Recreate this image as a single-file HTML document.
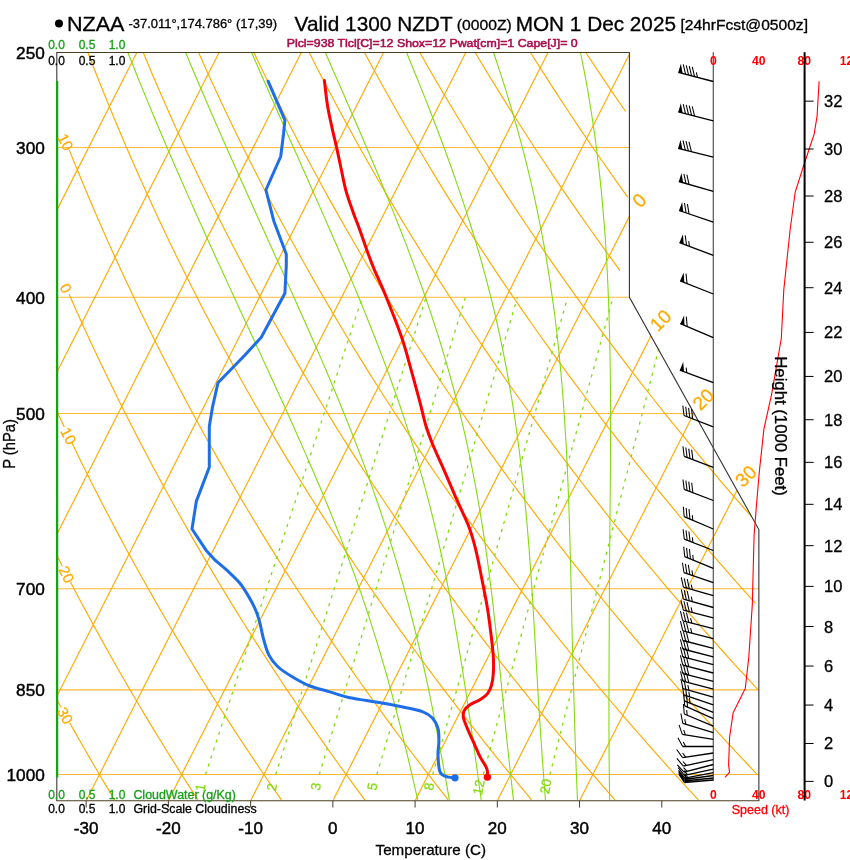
<!DOCTYPE html><html><head><meta charset="utf-8"><style>html,body{margin:0;padding:0;background:#fff;}svg{display:block;will-change:transform;}text{font-family:"Liberation Sans",sans-serif;}</style></head><body>
<svg width="850" height="860" viewBox="0 0 850 860">
<rect width="850" height="860" fill="#fff"/>
<defs><clipPath id="fr"><polygon points="56.8,52.51 629.41,52.51 629.41,297.37 758.86,529.54 758.86,800.72 56.8,800.72"/></clipPath></defs>
<g clip-path="url(#fr)"><line x1="56.8" y1="774.53" x2="758.86" y2="774.53" stroke="#FFBA38" stroke-width="1.1"/><line x1="56.8" y1="689.88" x2="758.86" y2="689.88" stroke="#FFBA38" stroke-width="1.1"/><line x1="56.8" y1="588.76" x2="758.86" y2="588.76" stroke="#FFBA38" stroke-width="1.1"/><line x1="56.8" y1="413.52" x2="694.17" y2="413.52" stroke="#FFBA38" stroke-width="1.1"/><line x1="56.8" y1="297.3" x2="629.41" y2="297.3" stroke="#FFBA38" stroke-width="1.1"/><line x1="56.8" y1="147.46" x2="629.41" y2="147.46" stroke="#FFBA38" stroke-width="1.1"/><line x1="-489.12" y1="799.94" x2="-109.85" y2="52.51" stroke="#FFAA00" stroke-width="1.15"/><line x1="-406.89" y1="799.94" x2="-27.61" y2="52.51" stroke="#FFAA00" stroke-width="1.15"/><line x1="-324.65" y1="799.94" x2="54.63" y2="52.51" stroke="#FFAA00" stroke-width="1.15"/><line x1="-242.41" y1="799.94" x2="136.86" y2="52.51" stroke="#FFAA00" stroke-width="1.15"/><line x1="-160.18" y1="799.94" x2="219.1" y2="52.51" stroke="#FFAA00" stroke-width="1.15"/><line x1="-77.94" y1="799.94" x2="301.34" y2="52.51" stroke="#FFAA00" stroke-width="1.15"/><line x1="4.3" y1="799.94" x2="383.57" y2="52.51" stroke="#FFAA00" stroke-width="1.15"/><line x1="86.53" y1="799.94" x2="465.81" y2="52.51" stroke="#FFAA00" stroke-width="1.15"/><line x1="168.77" y1="799.94" x2="548.05" y2="52.51" stroke="#FFAA00" stroke-width="1.15"/><line x1="251.01" y1="799.94" x2="630.28" y2="52.51" stroke="#FFAA00" stroke-width="1.15"/><line x1="333.24" y1="799.94" x2="712.52" y2="52.51" stroke="#FFAA00" stroke-width="1.15"/><line x1="415.48" y1="799.94" x2="794.76" y2="52.51" stroke="#FFAA00" stroke-width="1.15"/><line x1="497.72" y1="799.94" x2="876.99" y2="52.51" stroke="#FFAA00" stroke-width="1.15"/><line x1="579.95" y1="799.94" x2="959.23" y2="52.51" stroke="#FFAA00" stroke-width="1.15"/><polyline points="114.63,799.94 111.62,794.95 108.59,789.92 105.55,784.84 102.5,779.71 99.43,774.53 96.34,769.29 93.25,764.01 90.13,758.66 87.01,753.27 83.86,747.81 80.71,742.3 77.53,736.73 74.34,731.1 71.14,725.41 69.62,722.7" fill="none" stroke="#FFAA00" stroke-width="1.15"/><polyline points="61.07,707.3 58.16,702 54.87,695.97 51.56,689.88 48.24,683.72 44.9,677.48 41.55,671.17 38.17,664.78 34.78,658.31 31.36,651.76 27.93,645.12 24.48,638.4 21.01,631.59 17.52,624.69 14.02,617.7 10.49,610.62 6.94,603.43 3.37,596.15 -0.22,588.76 -3.84,581.27 -7.47,573.66 -11.13,565.95 -14.81,558.11 -18.51,550.16 -22.23,542.09 -25.98,533.89 -29.75,525.55 -33.54,517.08 -37.36,508.47 -41.2,499.72 -45.07,490.82 -48.97,481.76 -52.89,472.54 -56.83,463.16 -60.8,453.6 -64.8,443.86 -68.83,433.94 -72.88,423.83 -76.96,413.52 -81.07,402.99 -85.21,392.26 -89.37,381.29 -93.57,370.09 -97.8,358.64 -102.05,346.94 -106.34,334.96 -110.65,322.71 -115,310.16 -119.38,297.3 -123.79,284.11 -128.23,270.58 -132.7,256.69 -137.21,242.42 -141.74,227.75 -146.31,212.65 -150.9,197.1 -155.53,181.08 -160.19,164.54 -164.87,147.46 -169.59,129.81 -174.33,111.53 -179.09,92.59 -183.88,72.93 -188.69,52.51" fill="none" stroke="#FFAA00" stroke-width="1.15"/><polyline points="198.02,799.94 194.78,794.95 191.53,789.92 188.25,784.84 184.97,779.71 181.66,774.53 178.34,769.29 175.01,764.01 171.66,758.66 168.29,753.27 164.9,747.81 161.5,742.3 158.08,736.73 154.64,731.1 151.19,725.41 147.71,719.65 144.22,713.83 140.71,707.95 137.18,702 133.63,695.97 130.07,689.88 126.48,683.72 122.87,677.48 119.25,671.17 115.6,664.78 111.93,658.31 108.24,651.76 104.53,645.12 100.8,638.4 97.04,631.59 93.27,624.69 89.47,617.7 85.64,610.62 81.8,603.43 77.93,596.15 74.04,588.76 70.5,582" fill="none" stroke="#FFAA00" stroke-width="1.15"/><polyline points="62.39,566.3 62.21,565.95 58.22,558.11 54.2,550.16 50.15,542.09 46.08,533.89 41.98,525.55 37.85,517.08 33.7,508.47 29.51,499.72 25.3,490.82 21.06,481.76 16.78,472.54 12.48,463.16 8.15,453.6 3.78,443.86 -0.62,433.94 -5.05,423.83 -9.51,413.52 -14.01,402.99 -18.54,392.26 -23.11,381.29 -27.71,370.09 -32.35,358.64 -37.03,346.94 -41.74,334.96 -46.49,322.71 -51.27,310.16 -56.1,297.3 -60.97,284.11 -65.87,270.58 -70.82,256.69 -75.81,242.42 -80.83,227.75 -85.9,212.65 -91.01,197.1 -96.16,181.08 -101.36,164.54 -106.59,147.46 -111.87,129.81 -117.19,111.53 -122.54,92.59 -127.94,72.93 -133.37,52.51" fill="none" stroke="#FFAA00" stroke-width="1.15"/><polyline points="281.41,799.94 277.95,794.95 274.46,789.92 270.96,784.84 267.44,779.71 263.9,774.53 260.35,769.29 256.77,764.01 253.18,758.66 249.57,753.27 245.94,747.81 242.29,742.3 238.63,736.73 234.94,731.1 231.24,725.41 227.51,719.65 223.76,713.83 220,707.95 216.21,702 212.4,695.97 208.57,689.88 204.72,683.72 200.84,677.48 196.94,671.17 193.02,664.78 189.08,658.31 185.12,651.76 181.13,645.12 177.11,638.4 173.07,631.59 169.01,624.69 164.92,617.7 160.8,610.62 156.66,603.43 152.49,596.15 148.3,588.76 144.08,581.27 139.83,573.66 135.55,565.95 131.24,558.11 126.9,550.16 122.53,542.09 118.14,533.89 113.71,525.55 109.25,517.08 104.76,508.47 100.23,499.72 95.67,490.82 91.08,481.76 86.45,472.54 81.79,463.16 77.1,453.6 72.36,443.86 71.75,442.6" fill="none" stroke="#FFAA00" stroke-width="1.15"/><polyline points="64.28,427 62.78,423.83 57.94,413.52 53.05,402.99 48.12,392.26 43.16,381.29 38.15,370.09 33.1,358.64 28,346.94 22.86,334.96 17.68,322.71 12.45,310.16 7.18,297.3 1.85,284.11 -3.52,270.58 -8.94,256.69 -14.41,242.42 -19.93,227.75 -25.5,212.65 -31.12,197.1 -36.8,181.08 -42.53,164.54 -48.31,147.46 -54.15,129.81 -60.04,111.53 -65.99,92.59 -71.99,72.93 -78.05,52.51" fill="none" stroke="#FFAA00" stroke-width="1.15"/><polyline points="364.81,799.94 361.11,794.95 357.4,789.92 353.66,784.84 349.91,779.71 346.14,774.53 342.35,769.29 338.53,764.01 334.7,758.66 330.85,753.27 326.98,747.81 323.09,742.3 319.18,736.73 315.24,731.1 311.28,725.41 307.3,719.65 303.3,713.83 299.28,707.95 295.23,702 291.16,695.97 287.07,689.88 282.95,683.72 278.81,677.48 274.64,671.17 270.45,664.78 266.23,658.31 261.99,651.76 257.72,645.12 253.42,638.4 249.1,631.59 244.75,624.69 240.37,617.7 235.96,610.62 231.52,603.43 227.06,596.15 222.56,588.76 218.03,581.27 213.47,573.66 208.88,565.95 204.26,558.11 199.61,550.16 194.92,542.09 190.19,533.89 185.44,525.55 180.64,517.08 175.81,508.47 170.95,499.72 166.05,490.82 161.1,481.76 156.13,472.54 151.11,463.16 146.05,453.6 140.94,443.86 135.8,433.94 130.61,423.83 125.38,413.52 120.11,402.99 114.79,392.26 109.42,381.29 104.01,370.09 98.54,358.64 93.03,346.94 87.46,334.96 81.85,322.71 76.18,310.16 70.45,297.3 69.13,294.3" fill="none" stroke="#FFAA00" stroke-width="1.15"/><polyline points="448.2,799.94 444.27,794.95 440.33,789.92 436.37,784.84 432.38,779.71 428.37,774.53 424.35,769.29 420.3,764.01 416.23,758.66 412.13,753.27 408.02,747.81 403.88,742.3 399.72,736.73 395.54,731.1 391.33,725.41 387.1,719.65 382.84,713.83 378.56,707.95 374.26,702 369.93,695.97 365.57,689.88 361.19,683.72 356.78,677.48 352.34,671.17 347.88,664.78 343.39,658.31 338.87,651.76 334.32,645.12 329.74,638.4 325.13,631.59 320.49,624.69 315.82,617.7 311.12,610.62 306.39,603.43 301.62,596.15 296.82,588.76 291.99,581.27 287.12,573.66 282.22,565.95 277.28,558.11 272.31,550.16 267.3,542.09 262.25,533.89 257.16,525.55 252.04,517.08 246.87,508.47 241.67,499.72 236.42,490.82 231.13,481.76 225.8,472.54 220.42,463.16 214.99,453.6 209.53,443.86 204.01,433.94 198.45,423.83 192.83,413.52 187.17,402.99 181.45,392.26 175.69,381.29 169.86,370.09 163.99,358.64 158.06,346.94 152.06,334.96 146.02,322.71 139.91,310.16 133.73,297.3 127.5,284.11 121.2,270.58 114.83,256.69 108.39,242.42 101.89,227.75 95.31,212.65 88.66,197.1 81.93,181.08 75.13,164.54 69.3,150.1" fill="none" stroke="#FFAA00" stroke-width="1.15"/><polyline points="531.59,799.94 527.44,794.95 523.26,789.92 519.07,784.84 514.85,779.71 510.61,774.53 506.35,769.29 502.06,764.01 497.75,758.66 493.42,753.27 489.06,747.81 484.68,742.3 480.27,736.73 475.84,731.1 471.38,725.41 466.9,719.65 462.39,713.83 457.85,707.95 453.28,702 448.69,695.97 444.07,689.88 439.43,683.72 434.75,677.48 430.04,671.17 425.31,664.78 420.54,658.31 415.74,651.76 410.91,645.12 406.05,638.4 401.16,631.59 396.23,624.69 391.27,617.7 386.28,610.62 381.25,603.43 376.18,596.15 371.08,588.76 365.95,581.27 360.77,573.66 355.56,565.95 350.31,558.11 345.01,550.16 339.68,542.09 334.31,533.89 328.89,525.55 323.43,517.08 317.93,508.47 312.38,499.72 306.79,490.82 301.15,481.76 295.47,472.54 289.73,463.16 283.94,453.6 278.11,443.86 272.22,433.94 266.28,423.83 260.28,413.52 254.23,402.99 248.12,392.26 241.95,381.29 235.72,370.09 229.43,358.64 223.08,346.94 216.67,334.96 210.18,322.71 203.63,310.16 197.01,297.3 190.32,284.11 183.55,270.58 176.71,256.69 169.79,242.42 162.8,227.75 155.72,212.65 148.55,197.1 141.3,181.08 133.96,164.54 126.53,147.46 119,129.81 111.38,111.53 103.66,92.59 95.84,72.93 87.91,52.51" fill="none" stroke="#FFAA00" stroke-width="1.15"/><polyline points="614.98,799.94 610.6,794.95 606.2,789.92 601.77,784.84 597.32,779.71 592.85,774.53 588.35,769.29 583.82,764.01 579.27,758.66 574.7,753.27 570.1,747.81 565.47,742.3 560.82,736.73 556.14,731.1 551.43,725.41 546.69,719.65 541.93,713.83 537.13,707.95 532.31,702 527.46,695.97 522.57,689.88 517.66,683.72 512.72,677.48 507.74,671.17 502.73,664.78 497.69,658.31 492.62,651.76 487.51,645.12 482.36,638.4 477.19,631.59 471.97,624.69 466.72,617.7 461.44,610.62 456.11,603.43 450.75,596.15 445.34,588.76 439.9,581.27 434.42,573.66 428.89,565.95 423.33,558.11 417.72,550.16 412.06,542.09 406.37,533.89 400.62,525.55 394.83,517.08 388.99,508.47 383.1,499.72 377.16,490.82 371.18,481.76 365.14,472.54 359.04,463.16 352.89,453.6 346.69,443.86 340.43,433.94 334.11,423.83 327.73,413.52 321.29,402.99 314.78,392.26 308.22,381.29 301.58,370.09 294.88,358.64 288.11,346.94 281.27,334.96 274.35,322.71 267.36,310.16 260.29,297.3 253.14,284.11 245.91,270.58 238.6,256.69 231.19,242.42 223.7,227.75 216.12,212.65 208.44,197.1 200.67,181.08 192.79,164.54 184.81,147.46 176.72,129.81 168.52,111.53 160.21,92.59 151.78,72.93 143.23,52.51" fill="none" stroke="#FFAA00" stroke-width="1.15"/><polyline points="698.38,799.94 693.77,794.95 689.13,789.92 684.48,784.84 679.79,779.71 675.08,774.53 670.35,769.29 665.59,764.01 660.8,758.66 655.98,753.27 651.14,747.81 646.27,742.3 641.36,736.73 636.43,731.1 631.48,725.41 626.49,719.65 621.47,713.83 616.42,707.95 611.34,702 606.22,695.97 601.08,689.88 595.9,683.72 590.69,677.48 585.44,671.17 580.16,664.78 574.84,658.31 569.49,651.76 564.1,645.12 558.68,638.4 553.22,631.59 547.71,624.69 542.17,617.7 536.59,610.62 530.97,603.43 525.31,596.15 519.61,588.76 513.86,581.27 508.07,573.66 502.23,565.95 496.35,558.11 490.42,550.16 484.45,542.09 478.42,533.89 472.35,525.55 466.22,517.08 460.05,508.47 453.82,499.72 447.54,490.82 441.2,481.76 434.81,472.54 428.35,463.16 421.84,453.6 415.27,443.86 408.64,433.94 401.94,423.83 395.18,413.52 388.35,402.99 381.45,392.26 374.48,381.29 367.44,370.09 360.33,358.64 353.14,346.94 345.87,334.96 338.52,322.71 331.09,310.16 323.57,297.3 315.96,284.11 308.27,270.58 300.48,256.69 292.59,242.42 284.61,227.75 276.52,212.65 268.33,197.1 260.03,181.08 251.62,164.54 243.09,147.46 234.44,129.81 225.66,111.53 216.76,92.59 207.72,72.93 198.55,52.51" fill="none" stroke="#FFAA00" stroke-width="1.15"/><polyline points="757.32,774.53 752.35,769.29 747.35,764.01 742.32,758.66 737.26,753.27 732.18,747.81 727.06,742.3 721.91,736.73 716.73,731.1 711.52,725.41 706.28,719.65 701.01,713.83 695.7,707.95 690.36,702 684.99,695.97 679.58,689.88 674.13,683.72 668.65,677.48 663.14,671.17 657.59,664.78 652,658.31 646.37,651.76 640.7,645.12 634.99,638.4 629.24,631.59 623.46,624.69 617.62,617.7 611.75,610.62 605.83,603.43 599.87,596.15 593.87,588.76 587.81,581.27 581.72,573.66 575.57,565.95 569.37,558.11 563.13,550.16 556.83,542.09 550.48,533.89 544.08,525.55 537.62,517.08 531.11,508.47 524.54,499.72 517.91,490.82 511.22,481.76 504.48,472.54 497.67,463.16 490.79,453.6 483.85,443.86 476.85,433.94 469.77,423.83 462.63,413.52 455.41,402.99 448.12,392.26 440.75,381.29 433.3,370.09 425.77,358.64 418.16,346.94 410.47,334.96 402.68,322.71 394.81,310.16 386.85,297.3 378.78,284.11 370.62,270.58 362.36,256.69 353.99,242.42 345.52,227.75 336.93,212.65 328.22,197.1 319.4,181.08 310.45,164.54 301.37,147.46 292.16,129.81 282.81,111.53 273.31,92.59 263.67,72.93 253.87,52.51" fill="none" stroke="#FFAA00" stroke-width="1.15"/><polyline points="758.08,689.88 752.37,683.72 746.62,677.48 740.84,671.17 735.01,664.78 729.15,658.31 723.24,651.76 717.29,645.12 711.31,638.4 705.27,631.59 699.2,624.69 693.08,617.7 686.91,610.62 680.7,603.43 674.44,596.15 668.13,588.76 661.77,581.27 655.36,573.66 648.91,565.95 642.39,558.11 635.83,550.16 629.21,542.09 622.54,533.89 615.8,525.55 609.02,517.08 602.17,508.47 595.26,499.72 588.28,490.82 581.25,481.76 574.15,472.54 566.98,463.16 559.74,453.6 552.43,443.86 545.06,433.94 537.6,423.83 530.07,413.52 522.47,402.99 514.78,392.26 507.01,381.29 499.16,370.09 491.22,358.64 483.19,346.94 475.07,334.96 466.85,322.71 458.54,310.16 450.12,297.3 441.61,284.11 432.98,270.58 424.24,256.69 415.39,242.42 406.42,227.75 397.33,212.65 388.11,197.1 378.76,181.08 369.28,164.54 359.65,147.46 349.87,129.81 339.95,111.53 329.86,92.59 319.61,72.93 309.19,52.51" fill="none" stroke="#FFAA00" stroke-width="1.15"/><polyline points="755.56,603.43 749,596.15 742.39,588.76 735.73,581.27 729.01,573.66 722.24,565.95 715.42,558.11 708.53,550.16 701.59,542.09 694.59,533.89 687.53,525.55 680.41,517.08 673.22,508.47 665.97,499.72 658.66,490.82 651.27,481.76 643.82,472.54 636.29,463.16 628.69,453.6 621.02,443.86 613.26,433.94 605.43,423.83 597.52,413.52 589.53,402.99 581.45,392.26 573.28,381.29 565.02,370.09 556.66,358.64 548.22,346.94 539.67,334.96 531.02,322.71 522.27,310.16 513.4,297.3 504.43,284.11 495.34,270.58 486.13,256.69 476.79,242.42 467.33,227.75 457.74,212.65 448,197.1 438.13,181.08 428.11,164.54 417.93,147.46 407.59,129.81 397.09,111.53 386.41,92.59 375.55,72.93 364.51,52.51" fill="none" stroke="#FFAA00" stroke-width="1.15"/><polyline points="751.81,517.08 744.28,508.47 736.69,499.72 729.03,490.82 721.29,481.76 713.49,472.54 705.6,463.16 697.64,453.6 689.6,443.86 681.47,433.94 673.26,423.83 664.97,413.52 656.59,402.99 648.11,392.26 639.54,381.29 630.88,370.09 622.11,358.64 613.24,346.94 604.27,334.96 595.19,322.71 585.99,310.16 576.68,297.3 567.25,284.11 557.69,270.58 548.01,256.69 538.19,242.42 528.24,227.75 518.14,212.65 507.9,197.1 497.5,181.08 486.94,164.54 476.21,147.46 465.31,129.81 454.23,111.53 442.96,92.59 431.5,72.93 419.82,52.51" fill="none" stroke="#FFAA00" stroke-width="1.15"/><polyline points="620.05,270.58 609.89,256.69 599.59,242.42 589.15,227.75 578.55,212.65 567.79,197.1 556.86,181.08 545.77,164.54 534.49,147.46 523.03,129.81 511.37,111.53 499.51,92.59 487.44,72.93 475.14,52.51" fill="none" stroke="#FFAA00" stroke-width="1.15"/><polyline points="627.68,197.1 616.23,181.08 604.6,164.54 592.77,147.46 580.75,129.81 568.51,111.53 556.06,92.59 543.38,72.93 530.46,52.51" fill="none" stroke="#FFAA00" stroke-width="1.15"/><polyline points="625.66,111.53 612.61,92.59 599.33,72.93 585.78,52.51" fill="none" stroke="#FFAA00" stroke-width="1.15"/><polyline points="417.72,799.94 416.59,794.95 415.45,789.92 414.29,784.84 413.12,779.71 411.93,774.53 410.71,769.29 409.47,764.01 408.21,758.66 406.91,753.27 405.59,747.81 404.28,742.3 402.91,736.73 401.51,731.1 400.09,725.41 398.62,719.65 397.13,713.83 395.6,707.95 394.03,702 392.42,695.97 390.76,689.88 389.07,683.72 387.33,677.48 385.54,671.17 383.7,664.78 381.81,658.31 379.86,651.76 377.86,645.12 375.79,638.4 373.67,631.59 371.48,624.69 369.22,617.7 366.89,610.62 364.48,603.43 362,596.15 359.44,588.76 356.8,581.27 354.07,573.66 351.25,565.95 348.38,558.11 345.38,550.16 342.26,542.09 339.05,533.89 335.74,525.55 332.34,517.08 328.83,508.47 325.22,499.72 321.5,490.82 317.67,481.76 313.73,472.54 309.68,463.16 305.52,453.6 301.24,443.86 296.84,433.94 292.32,423.83 287.68,413.52 282.91,402.99 278.02,392.26 273,381.29 267.85,370.09 262.58,358.64 257.17,346.94 251.63,334.96 245.96,322.71 240.15,310.16 234.21,297.3 228.13,284.11 221.91,270.58 215.55,256.69 209.05,242.42 202.41,227.75 195.63,212.65 188.69,197.1 181.61,181.08 174.39,164.54 167.01,147.46 159.49,129.81 151.81,111.53 143.98,92.59 136,72.93 127.86,52.51" fill="none" stroke="#84DA10" stroke-width="1.1"/><polyline points="449.38,799.94 448.48,794.95 447.58,789.92 446.67,784.84 445.75,779.71 444.82,774.53 443.88,769.29 442.92,764.01 441.94,758.66 440.95,753.27 439.93,747.81 438.94,742.3 437.89,736.73 436.83,731.1 435.74,725.41 434.63,719.65 433.5,713.83 432.33,707.95 431.14,702 429.91,695.97 428.66,689.88 427.36,683.72 426.03,677.48 424.66,671.17 423.24,664.78 421.77,658.31 420.23,651.76 418.65,645.12 417.03,638.4 415.36,631.59 413.64,624.69 411.86,617.7 410.03,610.62 408.14,603.43 406.19,596.15 404.17,588.76 402.08,581.27 399.92,573.66 397.68,565.95 395.36,558.11 392.95,550.16 390.46,542.09 387.89,533.89 385.21,525.55 382.44,517.08 379.55,508.47 376.56,499.72 373.46,490.82 370.24,481.76 366.9,472.54 363.43,463.16 359.83,453.6 356.1,443.86 352.24,433.94 348.23,423.83 344.08,413.52 339.78,402.99 335.33,392.26 330.73,381.29 325.97,370.09 321.05,358.64 315.97,346.94 310.72,334.96 305.3,322.71 299.72,310.16 293.96,297.3 288.03,284.11 281.92,270.58 275.64,256.69 269.17,242.42 262.53,227.75 255.7,212.65 248.68,197.1 241.48,181.08 234.08,164.54 226.5,147.46 218.72,129.81 210.74,111.53 202.57,92.59 194.2,72.93 185.63,52.51" fill="none" stroke="#84DA10" stroke-width="1.1"/><polyline points="481.22,799.94 480.53,794.95 479.83,789.92 479.13,784.84 478.42,779.71 477.72,774.53 477,769.29 476.28,764.01 475.54,758.66 474.8,753.27 474.03,747.81 473.26,742.3 472.51,736.73 471.72,731.1 470.91,725.41 470.05,719.65 469.18,713.83 468.3,707.95 467.41,702 466.5,695.97 465.57,689.88 464.63,683.72 463.66,677.48 462.68,671.17 461.67,664.78 460.63,658.31 459.57,651.76 458.48,645.12 457.35,638.4 456.19,631.59 455,624.69 453.76,617.7 452.49,610.62 451.16,603.43 449.8,596.15 448.38,588.76 446.9,581.27 445.37,573.66 443.77,565.95 442.11,558.11 440.38,550.16 438.58,542.09 436.69,533.89 434.72,525.55 432.66,517.08 430.51,508.47 428.26,499.72 425.9,490.82 423.43,481.76 420.85,472.54 418.14,463.16 415.31,453.6 412.34,443.86 409.24,433.94 405.98,423.83 402.58,413.52 399.01,402.99 395.28,392.26 391.37,381.29 387.29,370.09 383.02,358.64 378.56,346.94 373.91,334.96 369.05,322.71 363.99,310.16 358.71,297.3 353.22,284.11 347.51,270.58 341.57,256.69 335.41,242.42 329.01,227.75 322.38,212.65 315.51,197.1 308.39,181.08 301.09,164.54 293.49,147.46 285.63,129.81 277.52,111.53 269.15,92.59 260.52,72.93 251.63,52.51" fill="none" stroke="#84DA10" stroke-width="1.1"/><polyline points="513.42,799.94 512.87,794.95 512.32,789.92 511.76,784.84 511.19,779.71 510.61,774.53 510.03,769.29 509.45,764.01 508.87,758.66 508.29,753.27 507.71,747.81 507.13,742.3 506.55,736.73 506,731.1 505.43,725.41 504.85,719.65 504.28,713.83 503.69,707.95 503.11,702 502.51,695.97 501.91,689.88 501.31,683.72 500.69,677.48 500.06,671.17 499.42,664.78 498.76,658.31 498.09,651.76 497.4,645.12 496.69,638.4 495.96,631.59 495.21,624.69 494.43,617.7 493.66,610.62 492.83,603.43 491.97,596.15 491.08,588.76 490.14,581.27 489.17,573.66 488.15,565.95 487.09,558.11 485.98,550.16 484.81,542.09 483.58,533.89 482.29,525.55 480.93,517.08 479.5,508.47 478,499.72 476.41,490.82 474.73,481.76 472.96,472.54 471.06,463.16 469.1,453.6 467.02,443.86 464.79,433.94 462.44,423.83 459.95,413.52 457.31,402.99 454.52,392.26 451.57,381.29 448.44,370.09 445.13,358.64 441.62,346.94 437.91,334.96 433.98,322.71 429.83,310.16 425.44,297.3 420.81,284.11 415.92,270.58 410.76,256.69 405.33,242.42 399.61,227.75 393.6,212.65 387.34,197.1 380.73,181.08 373.81,164.54 366.57,147.46 359,129.81 351.1,111.53 342.86,92.59 334.27,72.93 325.33,52.51" fill="none" stroke="#84DA10" stroke-width="1.1"/><polyline points="545.47,799.94 545.07,794.95 544.67,789.92 544.28,784.84 543.89,779.71 543.51,774.53 543.12,769.29 542.74,764.01 542.36,758.66 541.97,753.27 541.58,747.81 541.22,742.3 540.84,736.73 540.45,731.1 540.07,725.41 539.68,719.65 539.3,713.83 538.94,707.95 538.58,702 538.22,695.97 537.86,689.88 537.5,683.72 537.14,677.48 536.78,671.17 536.41,664.78 536.04,658.31 535.67,651.76 535.28,645.12 534.89,638.4 534.49,631.59 534.12,624.69 533.7,617.7 533.27,610.62 532.83,603.43 532.37,596.15 531.9,588.76 531.4,581.27 530.88,573.66 530.34,565.95 529.77,558.11 529.17,550.16 528.53,542.09 527.86,533.89 527.16,525.55 526.41,517.08 525.61,508.47 524.77,499.72 523.87,490.82 522.91,481.76 521.89,472.54 520.8,463.16 519.63,453.6 518.38,443.86 517.04,433.94 515.61,423.83 514.07,413.52 512.42,402.99 510.65,392.26 508.75,381.29 506.7,370.09 504.52,358.64 502.17,346.94 499.64,334.96 496.93,322.71 494.01,310.16 490.88,297.3 487.52,284.11 483.91,270.58 480.04,256.69 475.89,242.42 471.43,227.75 466.65,212.65 461.54,197.1 456.06,181.08 450.25,164.54 444.03,147.46 437.41,129.81 430.37,111.53 422.89,92.59 414.96,72.93 406.57,52.51" fill="none" stroke="#84DA10" stroke-width="1.1"/><polyline points="577.49,799.94 577.26,794.95 577.04,789.92 576.82,784.84 576.61,779.71 576.4,774.53 576.2,769.29 576,764.01 575.8,758.66 575.61,753.27 575.42,747.81 575.22,742.3 575.07,736.73 574.89,731.1 574.71,725.41 574.54,719.65 574.37,713.83 574.2,707.95 574.02,702 573.85,695.97 573.68,689.88 573.51,683.72 573.33,677.48 573.15,671.17 572.96,664.78 572.78,658.31 572.58,651.76 572.41,645.12 572.25,638.4 572.08,631.59 571.91,624.69 571.79,617.7 571.63,610.62 571.47,603.43 571.3,596.15 571.14,588.76 570.96,581.27 570.78,573.66 570.6,565.95 570.4,558.11 570.19,550.16 569.97,542.09 569.74,533.89 569.49,525.55 569.22,517.08 568.93,508.47 568.61,499.72 568.28,490.82 567.91,481.76 567.51,472.54 567.07,463.16 566.6,453.6 566.08,443.86 565.46,433.94 564.83,423.83 564.14,413.52 563.39,402.99 562.57,392.26 561.66,381.29 560.67,370.09 559.58,358.64 558.44,346.94 557.12,334.96 555.67,322.71 554.07,310.16 552.29,297.3 550.41,284.11 548.3,270.58 546,256.69 543.48,242.42 540.71,227.75 537.68,212.65 534.37,197.1 530.73,181.08 526.74,164.54 522.36,147.46 517.56,129.81 512.32,111.53 506.6,92.59 500.36,72.93 493.58,52.51" fill="none" stroke="#84DA10" stroke-width="1.1"/><polyline points="609.69,799.94 609.6,794.95 609.51,789.92 609.43,784.84 609.36,779.71 609.29,774.53 609.24,769.29 609.18,764.01 609.13,758.66 609.09,753.27 609.05,747.81 609.01,742.3 609.01,736.73 608.99,731.1 608.97,725.41 608.96,719.65 608.96,713.83 608.96,707.95 608.96,702 608.97,695.97 608.99,689.88 609,683.72 609.02,677.48 609.04,671.17 609.07,664.78 609.1,658.31 609.13,651.76 609.16,645.12 609.19,638.4 609.22,631.59 609.25,624.69 609.28,617.7 609.3,610.62 609.37,603.43 609.4,596.15 609.42,588.76 609.44,581.27 609.49,573.66 609.56,565.95 609.62,558.11 609.7,550.16 609.77,542.09 609.85,533.89 609.93,525.55 610.01,517.08 610.09,508.47 610.18,499.72 610.26,490.82 610.33,481.76 610.41,472.54 610.47,463.16 610.49,453.6 610.53,443.86 610.56,433.94 610.57,423.83 610.55,413.52 610.52,402.99 610.46,392.26 610.36,381.29 610.24,370.09 610.07,358.64 609.85,346.94 609.59,334.96 609.26,322.71 608.86,310.16 608.39,297.3 607.83,284.11 607.18,270.58 606.41,256.69 605.56,242.42 604.53,227.75 603.2,212.65 601.88,197.1 600.29,181.08 598.46,164.54 596.36,147.46 593.96,129.81 591.23,111.53 588.11,92.59 584.54,72.93 580.52,52.51" fill="none" stroke="#84DA10" stroke-width="1.1"/></g>
<path d="M549.9 774.53L659.22 346.94M483.26 774.53L612.99 297.3M432.76 774.53L567.69 297.3M376.88 774.53L517.42 297.3M319.27 774.53L465.43 297.3M275.76 774.53L426.04 297.3M205.58 774.53L362.28 297.3" fill="none" stroke="#84DA10" stroke-width="1.3" stroke-dasharray="3.2,5.2"/>
<polyline points="629.41,52.51 629.41,297.37 758.86,529.54 758.86,800.72" fill="none" stroke="#333" stroke-width="1.1"/>
<line x1="56.8" y1="52.51" x2="56.8" y2="800.72" stroke="#3a3a3a" stroke-width="1.1"/>
<line x1="56.3" y1="52.51" x2="629.91" y2="52.51" stroke="#4a3d22" stroke-width="1.1"/>
<line x1="56.3" y1="800.72" x2="759.36" y2="800.72" stroke="#4a3d22" stroke-width="1.1"/>
<line x1="57.1" y1="81" x2="57.1" y2="777.6" stroke="#18A018" stroke-width="2.3"/>
<text x="44.8" y="58.71" font-size="17.2" fill="#000" text-anchor="end" stroke="#000" stroke-width="0.45">250</text>
<text x="44.8" y="153.66" font-size="17.2" fill="#000" text-anchor="end" stroke="#000" stroke-width="0.45">300</text>
<text x="44.8" y="303.5" font-size="17.2" fill="#000" text-anchor="end" stroke="#000" stroke-width="0.45">400</text>
<text x="44.8" y="419.72" font-size="17.2" fill="#000" text-anchor="end" stroke="#000" stroke-width="0.45">500</text>
<text x="44.8" y="594.96" font-size="17.2" fill="#000" text-anchor="end" stroke="#000" stroke-width="0.45">700</text>
<text x="44.8" y="696.08" font-size="17.2" fill="#000" text-anchor="end" stroke="#000" stroke-width="0.45">850</text>
<text x="44.8" y="780.73" font-size="17.2" fill="#000" text-anchor="end" stroke="#000" stroke-width="0.45">1000</text>
<text x="14.6" y="444" font-size="16" fill="#000" text-anchor="middle" textLength="49.6" lengthAdjust="spacingAndGlyphs" transform="rotate(-90 14.6 444)" stroke="#000" stroke-width="0.3">P (hPa)</text>
<text x="86.14" y="833.6" font-size="17" fill="#000" text-anchor="middle" stroke="#000" stroke-width="0.45">-30</text>
<line x1="86.14" y1="800.72" x2="86.14" y2="807.5" stroke="#4a3d22" stroke-width="1"/>
<text x="168.37" y="833.6" font-size="17" fill="#000" text-anchor="middle" stroke="#000" stroke-width="0.45">-20</text>
<line x1="168.37" y1="800.72" x2="168.37" y2="807.5" stroke="#4a3d22" stroke-width="1"/>
<text x="250.61" y="833.6" font-size="17" fill="#000" text-anchor="middle" stroke="#000" stroke-width="0.45">-10</text>
<line x1="250.61" y1="800.72" x2="250.61" y2="807.5" stroke="#4a3d22" stroke-width="1"/>
<text x="332.85" y="833.6" font-size="17" fill="#000" text-anchor="middle" stroke="#000" stroke-width="0.45">0</text>
<line x1="332.85" y1="800.72" x2="332.85" y2="807.5" stroke="#4a3d22" stroke-width="1"/>
<text x="415.08" y="833.6" font-size="17" fill="#000" text-anchor="middle" stroke="#000" stroke-width="0.45">10</text>
<line x1="415.08" y1="800.72" x2="415.08" y2="807.5" stroke="#4a3d22" stroke-width="1"/>
<text x="497.32" y="833.6" font-size="17" fill="#000" text-anchor="middle" stroke="#000" stroke-width="0.45">20</text>
<line x1="497.32" y1="800.72" x2="497.32" y2="807.5" stroke="#4a3d22" stroke-width="1"/>
<text x="579.56" y="833.6" font-size="17" fill="#000" text-anchor="middle" stroke="#000" stroke-width="0.45">30</text>
<line x1="579.56" y1="800.72" x2="579.56" y2="807.5" stroke="#4a3d22" stroke-width="1"/>
<text x="661.79" y="833.6" font-size="17" fill="#000" text-anchor="middle" stroke="#000" stroke-width="0.45">40</text>
<line x1="661.79" y1="800.72" x2="661.79" y2="807.5" stroke="#4a3d22" stroke-width="1"/>
<text x="430.8" y="854.5" font-size="15.5" fill="#000" text-anchor="middle" textLength="110.4" lengthAdjust="spacingAndGlyphs" stroke="#000" stroke-width="0.3">Temperature (C)</text>
<text x="56.5" y="49.3" font-size="12" fill="#18A018" text-anchor="middle" stroke="#18A018" stroke-width="0.3">0.0</text>
<text x="56.5" y="64.8" font-size="12" fill="#000" text-anchor="middle" stroke="#000" stroke-width="0.3">0.0</text>
<text x="56.5" y="799.1" font-size="12" fill="#18A018" text-anchor="middle" stroke="#18A018" stroke-width="0.3">0.0</text>
<text x="56.5" y="812.8" font-size="12" fill="#000" text-anchor="middle" stroke="#000" stroke-width="0.3">0.0</text>
<text x="87" y="49.3" font-size="12" fill="#18A018" text-anchor="middle" stroke="#18A018" stroke-width="0.3">0.5</text>
<text x="87" y="64.8" font-size="12" fill="#000" text-anchor="middle" stroke="#000" stroke-width="0.3">0.5</text>
<text x="87" y="799.1" font-size="12" fill="#18A018" text-anchor="middle" stroke="#18A018" stroke-width="0.3">0.5</text>
<text x="87" y="812.8" font-size="12" fill="#000" text-anchor="middle" stroke="#000" stroke-width="0.3">0.5</text>
<text x="117" y="49.3" font-size="12" fill="#18A018" text-anchor="middle" stroke="#18A018" stroke-width="0.3">1.0</text>
<text x="117" y="64.8" font-size="12" fill="#000" text-anchor="middle" stroke="#000" stroke-width="0.3">1.0</text>
<text x="117" y="799.1" font-size="12" fill="#18A018" text-anchor="middle" stroke="#18A018" stroke-width="0.3">1.0</text>
<text x="117" y="812.8" font-size="12" fill="#000" text-anchor="middle" stroke="#000" stroke-width="0.3">1.0</text>
<text x="133.4" y="798.9" font-size="12" fill="#18A018" textLength="102.5" lengthAdjust="spacingAndGlyphs" stroke="#18A018" stroke-width="0.3">CloudWater (g/Kg)</text>
<text x="133.4" y="812.8" font-size="12" fill="#000" textLength="123.3" lengthAdjust="spacingAndGlyphs" stroke="#000" stroke-width="0.3">Grid-Scale Cloudiness</text>
<circle cx="59" cy="23.5" r="4" fill="#000"/>
<text x="67" y="30.6" font-size="20.3" fill="#000" textLength="57.4" lengthAdjust="spacingAndGlyphs" stroke="#000" stroke-width="0.3">NZAA</text>
<text x="128.4" y="28.1" font-size="12.7" fill="#000" textLength="148.6" lengthAdjust="spacingAndGlyphs" stroke="#000" stroke-width="0.3">-37.011°,174.786° (17,39)</text>
<text x="294.6" y="30.6" font-size="20.3" fill="#000" textLength="158" lengthAdjust="spacingAndGlyphs" stroke="#000" stroke-width="0.3">Valid 1300 NZDT</text>
<text x="456.8" y="30.3" font-size="14.5" fill="#000" textLength="55" lengthAdjust="spacingAndGlyphs" stroke="#000" stroke-width="0.3">(0000Z)</text>
<text x="515.7" y="30.6" font-size="20.3" fill="#000" textLength="160.3" lengthAdjust="spacingAndGlyphs" stroke="#000" stroke-width="0.3">MON 1 Dec 2025</text>
<text x="680.4" y="30.3" font-size="14.5" fill="#000" textLength="127.6" lengthAdjust="spacingAndGlyphs" stroke="#000" stroke-width="0.3">[24hrFcst@0500z]</text>
<text x="286.7" y="47.1" font-size="11.8" fill="#A80E48" textLength="291" lengthAdjust="spacingAndGlyphs" stroke="#A80E48" stroke-width="0.55">Plcl=938 Tlcl[C]=12 Shox=12 Pwat[cm]=1 Cape[J]= 0</text>
<path d="M268.1 81.2L284.9 120.2L283.5 134.2L280.7 156.5L265.9 190L273.7 220.7L286.3 254.2L286.3 265.4L284.9 293.3L261.3 337.2L245 355L218 382.7L212.5 407.1L209.3 426.6L209.3 467.2L196.3 501.4L192 529L206 550.2L214.9 560L214.9 560C217.07 561.87 223.87 567.48 227.9 571.2C231.93 574.92 235.85 578.43 239.1 582.3C242.35 586.17 244.77 590.05 247.4 594.4C250.03 598.75 252.88 603.9 254.9 608.4C256.92 612.9 258.1 616.45 259.5 621.4C260.9 626.35 261.75 632.52 263.3 638.1C264.85 643.68 266.33 650.08 268.8 654.9C271.27 659.72 274.07 663.28 278.1 667C282.13 670.72 287.68 674.03 293 677.2C298.32 680.37 304.03 683.6 310 686C315.97 688.4 322.53 689.72 328.8 691.6C335.07 693.48 341.32 695.82 347.6 697.3C353.88 698.78 360.22 699.47 366.5 700.5C372.78 701.53 379.03 702.37 385.3 703.5C391.57 704.63 397.83 705.92 404.1 707.3C410.37 708.68 418.18 710.02 422.9 711.8C427.62 713.58 429.88 715.23 432.4 718C434.92 720.77 436.92 724.48 438 728.4C439.08 732.32 438.9 737.12 438.9 741.5C438.9 745.88 437.83 749.68 438 754.7C438.17 759.72 438.65 767.98 439.9 771.6C441.15 775.22 443 775.35 445.5 776.4C448 777.45 453.33 777.65 454.9 777.9" fill="none" stroke="#1E6EE8" stroke-width="3.0" stroke-linejoin="round" stroke-linecap="round"/>
<path d="M324.4 80.5C324.9 84.57 326.12 96.97 327.4 104.9C328.68 112.83 330.55 120.93 332.1 128.1C333.65 135.27 335.15 140.92 336.7 147.9C338.25 154.88 339.85 162.83 341.4 170C342.95 177.17 344.07 183.92 346 190.9C347.93 197.88 350.67 205.3 353 211.9C355.33 218.5 357.48 223.53 360 230.5C362.52 237.47 365.77 247.32 368.1 253.7C370.43 260.08 370.93 261.47 374 268.8C377.07 276.13 381.85 286.15 386.5 297.7C391.15 309.25 397.72 325.78 401.9 338.1C406.08 350.42 408.58 360.9 411.6 371.6C414.62 382.3 417.67 393.45 420 402.3C422.33 411.15 423.5 417.72 425.6 424.7C427.7 431.68 429.58 436.77 432.6 444.2C435.62 451.63 439.75 460.23 443.7 469.3C447.65 478.37 452.12 489.07 456.3 498.6C460.48 508.13 465.55 517.97 468.8 526.5C472.05 535.03 473.67 541.27 475.8 549.8C477.93 558.33 479.67 568.02 481.6 577.7C483.53 587.38 485.85 598.6 487.4 607.9C488.95 617.2 489.92 625.37 490.9 633.5C491.88 641.63 492.9 650.02 493.3 656.7C493.7 663.38 493.62 668.77 493.3 673.6C492.98 678.43 492.33 682.42 491.4 685.7C490.47 688.98 489.47 691.03 487.7 693.3C485.93 695.57 483.7 697.42 480.8 699.3C477.9 701.18 473.07 702.7 470.3 704.6C467.53 706.5 465.35 708.55 464.2 710.7C463.05 712.85 462.9 714.6 463.4 717.5C463.9 720.4 465.55 724.07 467.2 728.1C468.85 732.13 471.15 736.92 473.3 741.7C475.45 746.48 477.83 752.27 480.1 756.8C482.37 761.33 485.68 765.5 486.9 768.9C488.12 772.3 487.32 775.82 487.4 777.2" fill="none" stroke="#FF0000" stroke-width="3.0" stroke-linejoin="round" stroke-linecap="round"/>
<circle cx="455" cy="777.8" r="3.6" fill="#1E6EE8"/>
<circle cx="487.4" cy="777.2" r="3.6" fill="#FF0000"/>
<line x1="713.3" y1="52.3" x2="713.3" y2="781" stroke="#555" stroke-width="1.2"/>
<text x="713.3" y="65.2" font-size="12.2" fill="#FF0000" text-anchor="middle" font-weight="bold">0</text>
<text x="713.3" y="799.2" font-size="12.2" fill="#FF0000" text-anchor="middle" font-weight="bold">0</text>
<text x="758.8" y="65.2" font-size="12.2" fill="#FF0000" text-anchor="middle" font-weight="bold">40</text>
<text x="758.8" y="799.2" font-size="12.2" fill="#FF0000" text-anchor="middle" font-weight="bold">40</text>
<text x="804.2" y="65.2" font-size="12.2" fill="#FF0000" text-anchor="middle" font-weight="bold">80</text>
<text x="804.2" y="799.2" font-size="12.2" fill="#FF0000" text-anchor="middle" font-weight="bold">80</text>
<text x="849.8" y="65.2" font-size="12.2" fill="#FF0000" text-anchor="middle" font-weight="bold">120</text>
<text x="849.8" y="799.2" font-size="12.2" fill="#FF0000" text-anchor="middle" font-weight="bold">120</text>
<text x="760.6" y="814" font-size="12.5" fill="#FF0000" text-anchor="middle" stroke="#FF0000" stroke-width="0.3">Speed (kt)</text>
<polyline points="819.1,81.3 817.1,116 814.2,133.9 804.2,164 795.2,192 790.1,230 783.8,289.7 781.3,338.5 771.6,394.3 763.9,429.2 759.4,471 756.9,500 754.1,534.9 752.3,604.6 748.8,657 745.3,688.4 740.1,698.8 733.1,712.8 729.6,737.2 728.6,765.1 729.6,772.1 725.1,777.3" fill="none" stroke="#FF0000" stroke-width="1.1"/>
<line x1="804.6" y1="52.3" x2="804.6" y2="800.5" stroke="#000" stroke-width="2"/>
<line x1="804.6" y1="781.38" x2="813.6" y2="781.38" stroke="#000" stroke-width="1"/>
<text x="824" y="787.38" font-size="16.5" fill="#000" stroke="#000" stroke-width="0.3">0</text>
<line x1="804.6" y1="743.48" x2="813.6" y2="743.48" stroke="#000" stroke-width="1"/>
<text x="824" y="749.48" font-size="16.5" fill="#000" stroke="#000" stroke-width="0.3">2</text>
<line x1="804.6" y1="705.04" x2="813.6" y2="705.04" stroke="#000" stroke-width="1"/>
<text x="824" y="711.04" font-size="16.5" fill="#000" stroke="#000" stroke-width="0.3">4</text>
<line x1="804.6" y1="666.06" x2="813.6" y2="666.06" stroke="#000" stroke-width="1"/>
<text x="824" y="672.06" font-size="16.5" fill="#000" stroke="#000" stroke-width="0.3">6</text>
<line x1="804.6" y1="626.51" x2="813.6" y2="626.51" stroke="#000" stroke-width="1"/>
<text x="824" y="632.51" font-size="16.5" fill="#000" stroke="#000" stroke-width="0.3">8</text>
<line x1="804.6" y1="586.39" x2="813.6" y2="586.39" stroke="#000" stroke-width="1"/>
<text x="824" y="592.39" font-size="16.5" fill="#000" stroke="#000" stroke-width="0.3">10</text>
<line x1="804.6" y1="545.66" x2="813.6" y2="545.66" stroke="#000" stroke-width="1"/>
<text x="824" y="551.66" font-size="16.5" fill="#000" stroke="#000" stroke-width="0.3">12</text>
<line x1="804.6" y1="504.32" x2="813.6" y2="504.32" stroke="#000" stroke-width="1"/>
<text x="824" y="510.32" font-size="16.5" fill="#000" stroke="#000" stroke-width="0.3">14</text>
<line x1="804.6" y1="462.35" x2="813.6" y2="462.35" stroke="#000" stroke-width="1"/>
<text x="824" y="468.35" font-size="16.5" fill="#000" stroke="#000" stroke-width="0.3">16</text>
<line x1="804.6" y1="419.73" x2="813.6" y2="419.73" stroke="#000" stroke-width="1"/>
<text x="824" y="425.73" font-size="16.5" fill="#000" stroke="#000" stroke-width="0.3">18</text>
<line x1="804.6" y1="376.43" x2="813.6" y2="376.43" stroke="#000" stroke-width="1"/>
<text x="824" y="382.43" font-size="16.5" fill="#000" stroke="#000" stroke-width="0.3">20</text>
<line x1="804.6" y1="332.43" x2="813.6" y2="332.43" stroke="#000" stroke-width="1"/>
<text x="824" y="338.43" font-size="16.5" fill="#000" stroke="#000" stroke-width="0.3">22</text>
<line x1="804.6" y1="287.71" x2="813.6" y2="287.71" stroke="#000" stroke-width="1"/>
<text x="824" y="293.71" font-size="16.5" fill="#000" stroke="#000" stroke-width="0.3">24</text>
<line x1="804.6" y1="242.26" x2="813.6" y2="242.26" stroke="#000" stroke-width="1"/>
<text x="824" y="248.26" font-size="16.5" fill="#000" stroke="#000" stroke-width="0.3">26</text>
<line x1="804.6" y1="196.03" x2="813.6" y2="196.03" stroke="#000" stroke-width="1"/>
<text x="824" y="202.03" font-size="16.5" fill="#000" stroke="#000" stroke-width="0.3">28</text>
<line x1="804.6" y1="149.01" x2="813.6" y2="149.01" stroke="#000" stroke-width="1"/>
<text x="824" y="155.01" font-size="16.5" fill="#000" stroke="#000" stroke-width="0.3">30</text>
<line x1="804.6" y1="101.17" x2="813.6" y2="101.17" stroke="#000" stroke-width="1"/>
<text x="824" y="107.17" font-size="16.5" fill="#000" stroke="#000" stroke-width="0.3">32</text>
<text x="774.5" y="426" font-size="16" fill="#000" text-anchor="middle" textLength="139.5" lengthAdjust="spacingAndGlyphs" transform="rotate(90 774.5 426)" stroke="#000" stroke-width="0.3">Height (1000 Feet)</text>
<text x="65.7" y="142" font-size="15" fill="#FFAA00" font-family='"Liberation Serif",serif' text-anchor="middle" dominant-baseline="central" stroke="#FFAA00" stroke-width="0.25" transform="rotate(62 65.7 142)">10</text>
<text x="66.1" y="288" font-size="15" fill="#FFAA00" font-family='"Liberation Serif",serif' text-anchor="middle" dominant-baseline="central" stroke="#FFAA00" stroke-width="0.25" transform="rotate(62 66.1 288)">0</text>
<text x="68.5" y="435.9" font-size="15" fill="#FFAA00" font-family='"Liberation Serif",serif' text-anchor="middle" dominant-baseline="central" stroke="#FFAA00" stroke-width="0.25" transform="rotate(62 68.5 435.9)">10</text>
<text x="66.7" y="574.4" font-size="15" fill="#FFAA00" font-family='"Liberation Serif",serif' text-anchor="middle" dominant-baseline="central" stroke="#FFAA00" stroke-width="0.25" transform="rotate(62 66.7 574.4)">20</text>
<text x="65.4" y="715.5" font-size="15" fill="#FFAA00" font-family='"Liberation Serif",serif' text-anchor="middle" dominant-baseline="central" stroke="#FFAA00" stroke-width="0.25" transform="rotate(62 65.4 715.5)">30</text>
<text x="639.5" y="200.5" font-size="19" fill="#FFAA00" font-family='"Liberation Serif",serif' text-anchor="middle" dominant-baseline="central" stroke="#FFAA00" stroke-width="0.25" transform="rotate(-45 639.5 200.5)">0</text>
<text x="660.6" y="320.5" font-size="19" fill="#FFAA00" font-family='"Liberation Serif",serif' text-anchor="middle" dominant-baseline="central" stroke="#FFAA00" stroke-width="0.25" transform="rotate(-45 660.6 320.5)">10</text>
<text x="703.3" y="399.4" font-size="19" fill="#FFAA00" font-family='"Liberation Serif",serif' text-anchor="middle" dominant-baseline="central" stroke="#FFAA00" stroke-width="0.25" transform="rotate(-45 703.3 399.4)">20</text>
<text x="745.8" y="476.2" font-size="19" fill="#FFAA00" font-family='"Liberation Serif",serif' text-anchor="middle" dominant-baseline="central" stroke="#FFAA00" stroke-width="0.25" transform="rotate(-45 745.8 476.2)">30</text>
<text x="200.6" y="787.6" font-size="13.5" fill="#84DA10" font-family='"Liberation Serif",serif' text-anchor="middle" dominant-baseline="central" stroke="#84DA10" stroke-width="0.25" transform="rotate(-80 200.6 787.6)">1</text>
<text x="272" y="787.2" font-size="13.5" fill="#84DA10" font-family='"Liberation Serif",serif' text-anchor="middle" dominant-baseline="central" stroke="#84DA10" stroke-width="0.25" transform="rotate(-80 272 787.2)">2</text>
<text x="315.9" y="786.5" font-size="13.5" fill="#84DA10" font-family='"Liberation Serif",serif' text-anchor="middle" dominant-baseline="central" stroke="#84DA10" stroke-width="0.25" transform="rotate(-80 315.9 786.5)">3</text>
<text x="372.4" y="786.5" font-size="13.5" fill="#84DA10" font-family='"Liberation Serif",serif' text-anchor="middle" dominant-baseline="central" stroke="#84DA10" stroke-width="0.25" transform="rotate(-80 372.4 786.5)">5</text>
<text x="429.2" y="786.4" font-size="13.5" fill="#84DA10" font-family='"Liberation Serif",serif' text-anchor="middle" dominant-baseline="central" stroke="#84DA10" stroke-width="0.25" transform="rotate(-80 429.2 786.4)">8</text>
<text x="479" y="787.3" font-size="13.5" fill="#84DA10" font-family='"Liberation Serif",serif' text-anchor="middle" dominant-baseline="central" stroke="#84DA10" stroke-width="0.25" transform="rotate(-80 479 787.3)">12</text>
<text x="545.9" y="786.4" font-size="13.5" fill="#84DA10" font-family='"Liberation Serif",serif' text-anchor="middle" dominant-baseline="central" stroke="#84DA10" stroke-width="0.25" transform="rotate(-80 545.9 786.4)">20</text>
<path d="M713.3 81.5L678.3 72.3M713.3 120.9L678.3 111.9M713.3 157.1L678.1 148.4M713.3 191.3L678.8 181.5M713.3 222.1L679 210.5M713.3 255.3L679.5 242.6M713.3 294L680.1 280.8M713.3 337.7L680.3 323.7M713.3 382.7L679.8 370.2M713.3 426.9L684 415.5M713.3 467.3L684.2 456.3M713.3 500.5L684.2 489.4M713.3 529L684.2 516.7M713.3 550.5L684.3 539.2M713.3 568.4L684.7 556.6M713.3 582.7L684 572.6M713.3 595.6L683.4 587.2M713.3 607.5L683.4 599.1M713.3 617.9L683.3 610.2M713.3 628.7L682.8 620.9M713.3 638.6L682.8 630.8M713.3 648.3L682.8 640.5M713.3 656.8L682.8 649M713.3 664.6L682.8 656.8M713.3 673L682.8 665.2M713.3 681.4L682.8 673.6M713.3 689.2L682.8 681.2M713.3 697.1L683 688.6M713.3 704.9L683.8 694.9M713.3 712.4L684.3 700.9M713.3 718.7L684.7 705.9M713.3 726.2L684.3 714M713.3 732.6L682.8 723.3M713.3 739.3L682.3 734.4M713.3 746.5L682.6 746.5M713.3 753L682.6 757.6M713.3 759.6L683.3 766.1M713.3 764.5L684.1 772.2M713.3 769.2L684.5 775.3M713.3 772.6L684.8 778.1M713.3 775.5L684.3 779.5M713.3 778L684.3 781M713.3 780L684.3 782.5" fill="none" stroke="#000" stroke-width="1.3" stroke-linecap="butt"/>
<path d="M685.55 74.21l-2.3 -9.73M688.55 74.99l-2.3 -9.73M691.55 75.78l-2.3 -9.73M694.55 76.57l-2.3 -9.73M697.55 77.36l-1.19 -5.06M685.56 113.77l-2.35 -9.72M688.57 114.54l-2.35 -9.72M691.57 115.31l-2.35 -9.72M694.57 116.08l-2.35 -9.72M685.38 150.2l-2.44 -9.7M688.39 150.94l-2.44 -9.7M691.4 151.69l-2.44 -9.7M686.01 183.55l-2.1 -9.78M689 184.4l-2.1 -9.78M686.1 212.9l-1.62 -9.87M689.04 213.9l-1.62 -9.87M686.52 245.24l-1.29 -9.92M689.42 246.33l-0.67 -5.16M687.07 283.57l-1.1 -9.94M687.2 326.63l-0.87 -9.96M686.83 372.82l-0.68 -5.16M684 415.5l-1.17 -9.93M686.89 416.62l-1.17 -9.93M689.78 417.75l-1.17 -9.93M692.67 418.87l-1.17 -9.93M684.2 456.3l-1.27 -9.92M687.1 457.4l-1.27 -9.92M690 458.49l-1.27 -9.92M692.9 459.59l-1.27 -9.92M684.2 489.4l-1.24 -9.92M687.1 490.5l-1.24 -9.92M689.99 491.61l-1.24 -9.92M692.89 492.71l-1.24 -9.92M684.2 516.7l-0.89 -9.96M687.06 517.91l-0.89 -9.96M689.91 519.11l-0.89 -9.96M692.77 520.32l-0.46 -5.18M684.3 539.2l-1.17 -9.93M687.19 540.33l-1.17 -9.93M690.08 541.45l-1.17 -9.93M692.97 542.58l-0.61 -5.16M684.7 556.6l-0.97 -9.95M687.57 557.78l-0.97 -9.95M690.43 558.96l-0.97 -9.95M693.3 560.15l-0.51 -5.18M684 572.6l-1.56 -9.88M686.93 573.61l-1.56 -9.88M689.86 574.62l-1.56 -9.88M692.79 575.63l-0.81 -5.14M683.4 587.2l-2.13 -9.77M686.38 588.04l-2.13 -9.77M689.37 588.88l-2.13 -9.77M692.35 589.72l-1.11 -5.08M683.4 599.1l-2.13 -9.77M686.38 599.94l-2.13 -9.77M689.37 600.78l-2.13 -9.77M692.35 601.62l-1.11 -5.08M683.3 610.2l-2.35 -9.72M686.3 610.97l-2.35 -9.72M689.31 611.74l-2.35 -9.72M692.31 612.51l-1.22 -5.05M682.8 620.9l-2.36 -9.72M685.8 621.67l-2.36 -9.72M688.81 622.44l-2.36 -9.72M691.81 623.2l-1.23 -5.05M682.8 630.8l-2.36 -9.72M685.8 631.57l-2.36 -9.72M688.81 632.34l-2.36 -9.72M691.81 633.1l-1.23 -5.05M682.8 640.5l-2.36 -9.72M685.8 641.27l-2.36 -9.72M688.81 642.04l-2.36 -9.72M682.8 649l-2.36 -9.72M685.8 649.77l-2.36 -9.72M688.81 650.54l-2.36 -9.72M682.8 656.8l-2.36 -9.72M685.8 657.57l-2.36 -9.72M688.81 658.34l-2.36 -9.72M682.8 665.2l-2.36 -9.72M685.8 665.97l-2.36 -9.72M688.81 666.74l-2.36 -9.72M682.8 673.6l-2.36 -9.72M685.8 674.37l-2.36 -9.72M688.81 675.14l-2.36 -9.72M682.8 681.2l-2.3 -9.73M685.8 681.99l-2.3 -9.73M688.8 682.77l-2.3 -9.73M683 688.6l-2.14 -9.77M685.98 689.44l-2.14 -9.77M688.97 690.27l-1.11 -5.08M683.8 694.9l-1.61 -9.87M686.74 695.9l-1.61 -9.87M689.67 696.89l-0.84 -5.13M684.3 700.9l-1.11 -9.94M687.18 702.04l-1.11 -9.94M690.06 703.19l-0.58 -5.17M684.7 705.9l-0.68 -9.98M687.53 707.17l-0.68 -9.98M684.3 714l-0.9 -9.96M687.16 715.2l-0.47 -5.18M682.8 723.3l-1.92 -9.81M685.77 724.2l-1 -5.1M682.3 734.4l-3.26 -9.45M685.36 734.88l-1.69 -4.92M682.6 746.5l-4.69 -8.83M685.7 746.5l-2.44 -4.59M682.6 757.6l-5.95 -8.04M685.67 757.14l-3.09 -4.18M683.3 766.1l-6.46 -7.64M686.33 765.44l-3.36 -3.97M684.1 772.2l-6.79 -7.34M687.1 771.41l-3.53 -3.82M684.5 775.3l-6.42 -7.67M687.53 774.66l-3.34 -3.99M684.8 778.1l-6.28 -7.78M687.84 777.51l-3.27 -4.05M684.3 779.5l-5.86 -8.11M687.37 779.08l-3.05 -4.21M684.3 781l-5.58 -8.3M687.38 780.68l-2.9 -4.32M684.3 782.5l-5.44 -8.39" fill="none" stroke="#000" stroke-width="1.05"/>
<path d="M678.3 72.3L680.88 63.67L682.65 73.44ZM678.3 111.9L680.83 103.26L682.66 113.02ZM678.1 148.4L680.55 139.73L682.47 149.48ZM678.8 181.5L681.55 172.92L683.13 182.73ZM679 210.5L682.17 202.07L683.26 211.94ZM679.5 242.6L682.95 234.28L683.71 244.18ZM680.1 280.8L683.7 272.55L684.28 282.46ZM680.3 323.7L684.09 315.53L684.44 325.46ZM679.8 370.2L683.23 361.87L684.02 371.77Z" fill="#000" stroke="none"/>
</svg></body></html>
